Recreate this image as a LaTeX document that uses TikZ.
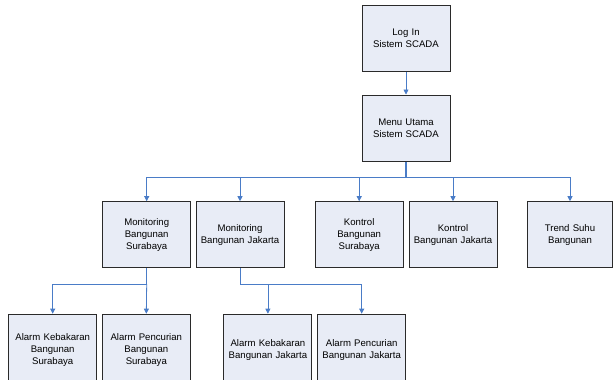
\documentclass[tikz,border=0pt]{standalone}
\usepackage{fontspec}
\setmainfont{Liberation Sans}
\usetikzlibrary{arrows.meta}
\definecolor{boxfill}{HTML}{E8ECF6}
\definecolor{boxline}{HTML}{2A2A2A}
\definecolor{conn}{HTML}{4A7CC7}
\begin{document}
\begin{tikzpicture}[x=1pt,y=-1pt,
  box/.style={draw=boxline,line width=1pt,fill=boxfill,minimum width=88pt,minimum height=66pt,
    inner sep=1pt,align=center,text width=86pt,font=\fontsize{9.6}{12}\selectfont},
  lowbox/.style={box,minimum height=72pt,anchor=north},
  conn/.style={draw=conn,line width=0.8pt},
  arr/.style={conn,-{Triangle[length=5pt,width=5pt]}}]
\useasboundingbox (0,0) rectangle (613,380);
\node[box] (login) at (406,38.7) {Log In\\Sistem SCADA};
\node[box] (menu) at (406,128) {Menu Utama\\Sistem SCADA};
\node[box] (msby) at (146.7,234.7) {Monitoring\\Bangunan\\Surabaya};
\node[box] (mjkt) at (240,234.7) {Monitoring\\Bangunan Jakarta};
\node[box] (ksby) at (359.2,234.7) {Kontrol\\Bangunan\\Surabaya};
\node[box] (kjkt) at (453,234.7) {Kontrol\\Bangunan Jakarta};
\node[box,minimum width=85pt,text width=83pt] (trend) at (570,234.7) {Trend Suhu\\Bangunan};
\node[lowbox] (aks) at (52.7,313.7) {Alarm Kebakaran\\Bangunan\\Surabaya\vphantom{g}\\[-6pt]};
\node[lowbox] (aps) at (146.3,313.7) {Alarm Pencurian\\Bangunan\\Surabaya\vphantom{g}\\[-6pt]};
\node[lowbox] (akj) at (267.9,313.7) {Alarm Kebakaran\\Bangunan Jakarta\\[-6pt]};
\node[lowbox] (apj) at (361.7,313.7) {Alarm Pencurian\\Bangunan Jakarta\\[-6pt]};
\coordinate (bus1) at (406,177);
\coordinate (bus2) at (146.7,284);
\coordinate (bus3) at (240,284);
\draw[arr] (login) -- (menu);
\draw[conn,line width=1.4pt] (menu.south) -- (bus1);
\foreach \t in {msby,mjkt,ksby,kjkt,trend}
  \draw[arr] (bus1) -| (\t.north);
\draw[conn] (msby.south) -- (bus2);
\draw[arr] (bus2) -| (aks.north);
\draw[arr] (bus2) -- (aps.north);
\draw[conn] (mjkt.south) -- (bus3);
\draw[arr] (bus3) -| (akj.north);
\draw[arr] (bus3) -| (apj.north);
\end{tikzpicture}
\end{document}
